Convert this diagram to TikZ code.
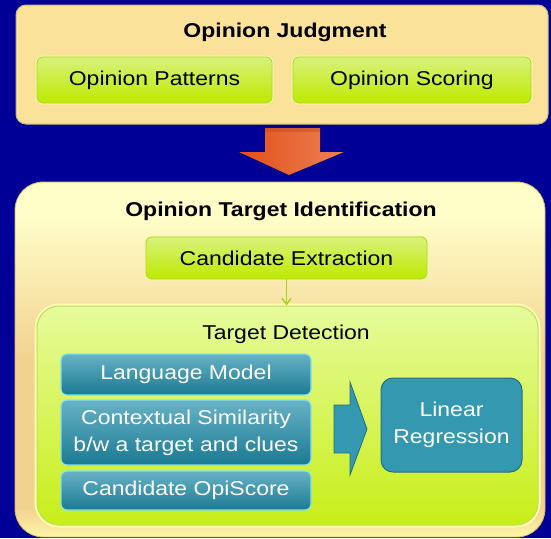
\documentclass[tikz,border=0pt]{standalone}
\usepackage{fontspec}
\setmainfont[FakeStretch=1.15]{Liberation Sans}
\usetikzlibrary{arrows.meta}

% palette
\definecolor{bgblue}{RGB}{0,0,150}
\definecolor{sand}{RGB}{251,226,155}
\definecolor{sandrim}{RGB}{200,184,130}
\definecolor{gtop}{RGB}{216,242,124}
\definecolor{gbot}{RGB}{190,234,0}
\definecolor{grim}{RGB}{176,214,40}
\definecolor{ghalo}{RGB}{246,244,170}
\definecolor{goldline}{RGB}{214,180,100}
\definecolor{peach}{RGB}{242,210,144}
\definecolor{paletop}{RGB}{255,253,200}
\definecolor{palebot}{RGB}{255,247,168}
\definecolor{limetop}{RGB}{230,251,156}
\definecolor{limebot}{RGB}{200,238,24}
\definecolor{limerim}{RGB}{190,222,90}
\definecolor{limehalo}{RGB}{255,250,176}
\definecolor{tealtop}{RGB}{104,178,198}
\definecolor{tealmid}{RGB}{44,140,164}
\definecolor{tealbot}{RGB}{26,122,146}
\definecolor{tealrim}{RGB}{130,226,240}
\definecolor{teal}{RGB}{52,152,176}
\definecolor{tealline}{RGB}{34,110,134}
\definecolor{orangeL}{RGB}{226,80,24}
\definecolor{orangeR}{RGB}{236,128,84}
\definecolor{flowgreen}{RGB}{168,208,32}

% pale at the top, warm through the middle, pale again at the foot
\pgfdeclareverticalshading{identshade}{100bp}{%
  color(0bp)=(palebot); color(25bp)=(palebot); color(29bp)=(peach);
  color(50bp)=(peach); color(70bp)=(paletop); color(100bp)=(paletop)}

\newcommand\boxfont{\fontsize{20}{27}\selectfont}

\tikzset{
  title/.style={font=\boxfont\bfseries, text=black, inner sep=0pt},
  greenbox/.style={draw=grim, line width=0.8pt, rounded corners=6pt,
    top color=gtop, bottom color=gbot, font=\boxfont, text=black,
    preaction={draw=ghalo, line width=3pt}},
  tealbox/.style={draw=tealrim, line width=1.2pt, rounded corners=6pt,
    top color=tealtop, middle color=tealmid, bottom color=tealbot,
    font=\boxfont, text=white, align=center, minimum width=250pt},
  regbox/.style={draw=tealline, line width=1pt, rounded corners=12pt,
    fill=teal, font=\boxfont, text=white, align=center},
}

\begin{document}
\begin{tikzpicture}[x=1pt,y=-1pt]
  \fill[bgblue] (0,0) rectangle (551,538);
  \useasboundingbox (0,0) rectangle (551,538);

  % upper panel
  \node[draw=sandrim, line width=1pt, fill=sand, rounded corners=10pt,
        minimum width=532pt, minimum height=119pt] (judg) at (282,64.5) {};
  \node[title] (judgtitle) at (285,32) {Opinion Judgment};
  \node[greenbox, minimum width=235pt, minimum height=46pt] (pat) at (154.5,80) {Opinion Patterns};
  \node[greenbox, minimum width=238pt, minimum height=46pt] (scor) at (412,80) {Opinion Scoring};

  % block arrow between the panels
  \fill[left color=orangeL, right color=orangeR]
    (265,128) -- (320,128) -- (320,152) -- (344,152) -- (289,175)
    -- (239,152) -- (265,152) -- cycle;
  \fill[orangeL!80!black, opacity=0.35] (265,128) rectangle (320,132);

  % lower panel
  \node[draw=goldline, line width=0.8pt, shading=identshade, rounded corners=28pt,
        minimum width=530pt, minimum height=355pt] (ident) at (280,359.5) {};
  \node[title] (identtitle) at (281,211) {Opinion Target Identification};

  \node[greenbox, minimum width=281pt, minimum height=42pt] (cand) at (286.5,258) {Candidate Extraction};

  \node[draw=limerim, line width=1pt, rounded corners=22pt,
        top color=limetop, bottom color=limebot,
        preaction={draw=limehalo, line width=5pt},
        minimum width=501pt, minimum height=219pt] (tdet) at (287.5,415.5) {};
  \node[font=\boxfont, inner sep=0pt] (tdettitle) at (286,334) {Target Detection};

  \draw[flowgreen, line width=1.4pt, -{Straight Barb[length=6pt,width=9pt]}]
    (cand.south) -- (cand.south |- tdet.north);

  % features
  \node[tealbox, minimum height=41pt] (lm) at (186,374.5) {Language Model};
  \node[tealbox, minimum height=65pt] (cs) at (186,432.5) {Contextual Similarity\\b/w a target and clues};
  \node[tealbox, minimum height=39pt] (co) at (186,490.5) {Candidate OpiScore};

  % block arrow into the regression box
  \filldraw[fill=teal, draw=tealline, line width=0.8pt]
    (334,405) -- (350,405) -- (350,382) -- (367,429) -- (350,475)
    -- (350,453) -- (334,453) -- cycle;

  \node[regbox, minimum width=141pt, minimum height=94pt] (lr) at (451.5,425) {Linear\\Regression};
\end{tikzpicture}
\end{document}
